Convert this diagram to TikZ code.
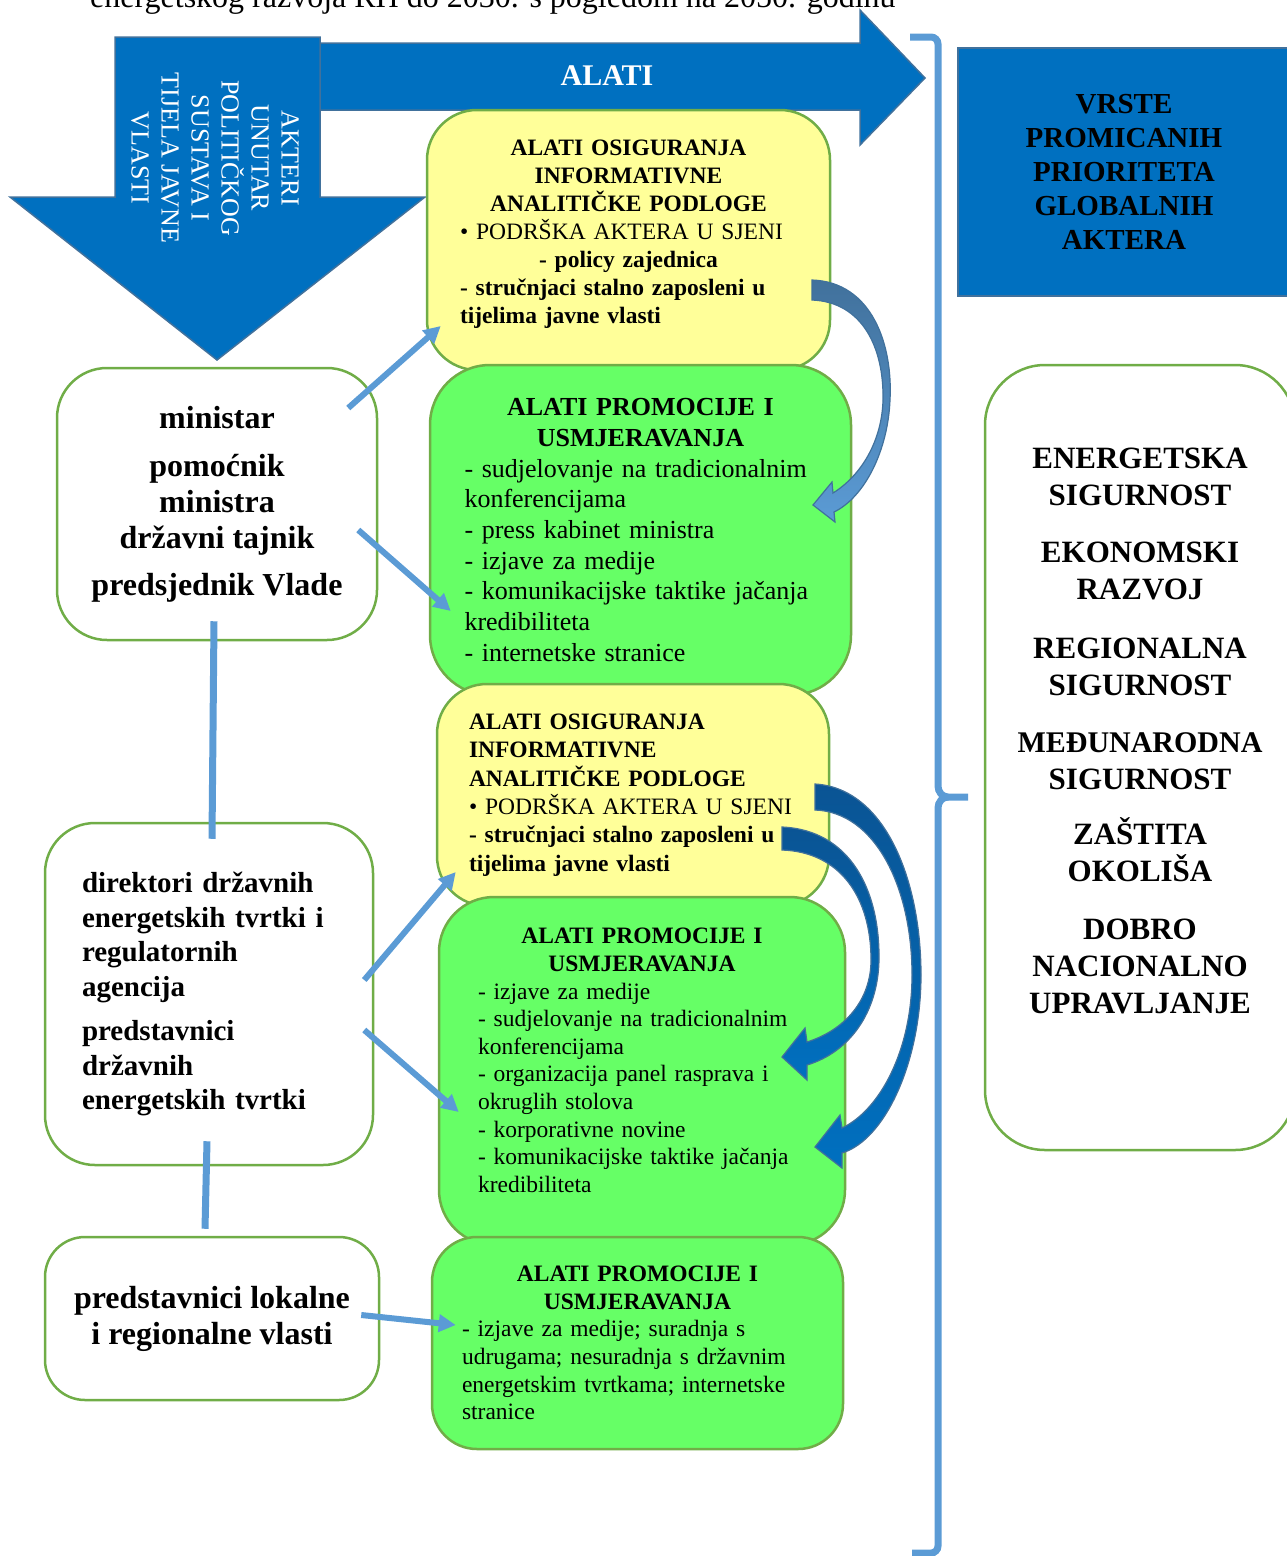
\documentclass[tikz,border=0pt]{standalone}
\usepackage{fontspec}
\setmainfont{Liberation Serif}
\usetikzlibrary{arrows.meta,calc}

\definecolor{arrowblue}{HTML}{0070C0}
\definecolor{edgeblue}{HTML}{41719C}
\definecolor{lineblue}{HTML}{5B9BD5}
\definecolor{deepblue}{HTML}{0A5494}
\definecolor{boxgreen}{HTML}{70AD47}
\definecolor{palegreen}{HTML}{66FF66}
\definecolor{paleyellow}{HTML}{FFFF99}

\begin{document}
\begin{tikzpicture}[
    x=1pt, y=-1pt,
    yellowbox/.style={rectangle, draw=boxgreen, fill=paleyellow, rounded corners=50pt, line width=2.5pt, align=left, font={\fontsize{23.5}{28}\selectfont}},
    greenbox/.style={rectangle, draw=boxgreen, fill=palegreen, rounded corners=55pt, line width=2.5pt, align=left},
    actor/.style={rectangle, draw=boxgreen, fill=white, rounded corners=50pt, line width=2.5pt},
    headbox/.style={rectangle, draw=edgeblue, fill=arrowblue, line width=1.5pt, align=center, font={\fontsize{29}{34}\selectfont\bfseries}},
    bigarrow/.style={fill=arrowblue, draw=edgeblue, line width=1.5pt},
    bendarrow/.style={draw=edgeblue, line width=1.2pt},
    link/.style={draw=lineblue, line width=6pt, -{Triangle[length=17pt,width=17pt]}},
    tie/.style={draw=lineblue, line width=7pt},
    brace/.style={draw=lineblue, line width=7pt}
]
\useasboundingbox (0,0) rectangle (1286,1556);

% Cut-off caption line
\node[anchor=base west, inner sep=0pt, font={\fontsize{32}{38}\selectfont}] (doctitle) at (90,7) {energetskog razvoja RH do 2030. s pogledom na 2050. godinu};

% Big block arrows
\path[bigarrow] (320,43) -- (860,43) -- (860,10) -- (925,78) -- (860,145) -- (860,110) -- (320,110) -- cycle;
\path[bigarrow] (115,37) -- (320,37) -- (320,197) -- (425,197) -- (217,360) -- (10,197) -- (115,197) -- cycle;
\node[text=white, font={\fontsize{30}{36}\selectfont\bfseries}] (toolslbl) at (607,76) {ALATI};
\node[rotate=-90, align=center, text=white, font={\fontsize{26}{30}\selectfont}] (actorslbl) at (215,158) {AKTERI\\ UNUTAR\\ POLITIČKOG\\ SUSTAVA I\\ TIJELA JAVNE\\ VLASTI};

% Right heading
\node[headbox, minimum width=332pt, minimum height=248pt] (priorhead) at (1124,172) {VRSTE\\ PROMICANIH\\ PRIORITETA\\ GLOBALNIH\\ AKTERA};

% Brace
\draw[brace] (910,37) -- (931,37) to[out=0,in=90] (938,44) -- (938,786) to[out=-90,in=180] (948,797) -- (968,797);
\draw[brace] (948,797) to[out=180,in=90] (938,808) -- (938,1546) to[out=-90,in=0] (931,1553) -- (912,1553);

% Tool boxes (middle column)
\node[yellowbox, minimum width=403pt, minimum height=260pt, text width=337pt] (infotop) at (628.5,240) {{\centering\bfseries ALATI OSIGURANJA\\ INFORMATIVNE\\ ANALITIČKE PODLOGE\par}
• PODRŠKA AKTERA U SJENI\par
{\centering\bfseries - policy zajednica\par}
{\bfseries - stručnjaci stalno zaposleni u\\ tijelima javne vlasti\par}
\vspace{12pt}\hrule height 0pt};

\node[greenbox, minimum width=421pt, minimum height=330pt, text width=352pt, rounded corners=60pt, font={\fontsize{26}{30.7}\selectfont}] (promotop) at (640.5,530) {{\centering\bfseries ALATI PROMOCIJE I\\ USMJERAVANJA\par}
- sudjelovanje na tradicionalnim\\ konferencijama\\ - press kabinet ministra\\ - izjave za medije\\ - komunikacijske taktike jačanja\\ kredibiliteta\\ - internetske stranice};

\node[yellowbox, minimum width=392pt, minimum height=222pt, text width=328pt, font={\fontsize{23.5}{28.4}\selectfont}] (infomid) at (633,795) {{\bfseries ALATI OSIGURANJA\\ INFORMATIVNE\\ ANALITIČKE PODLOGE\par}
• PODRŠKA AKTERA U SJENI\par
{\bfseries - stručnjaci stalno zaposleni u\\ tijelima javne vlasti\par}};

\node[greenbox, minimum width=406pt, minimum height=348pt, text width=328pt, font={\fontsize{23.5}{27.6}\selectfont}] (promomid) at (642,1071) {{\centering\bfseries ALATI PROMOCIJE I\\ USMJERAVANJA\par}
- izjave za medije\\ - sudjelovanje na tradicionalnim\\ konferencijama\\ - organizacija panel rasprava i\\ okruglih stolova\\ - korporativne novine\\ - komunikacijske taktike jačanja\\ kredibiliteta\par
\vspace{21pt}\hrule height 0pt};

\node[greenbox, minimum width=411pt, minimum height=212pt, text width=351pt, rounded corners=45pt, font={\fontsize{23.5}{27.6}\selectfont}] (promolow) at (637.5,1343) {{\centering\bfseries ALATI PROMOCIJE I\\ USMJERAVANJA\par}
- izjave za medije; suradnja s\\ udrugama; nesuradnja s državnim\\ energetskim tvrtkama; internetske\\ stranice};

% Actors (left column)
\node[actor, minimum width=320pt, minimum height=272pt, align=center, font={\fontsize{32}{36}\selectfont\bfseries}] (officials) at (217,504) {ministar\\[12pt] pomoćnik\\ ministra\\ državni tajnik\\[11pt] predsjednik Vlade};
\node[actor, minimum width=328pt, minimum height=342pt, text width=254pt, align=left, font={\fontsize{29}{34.5}\selectfont\bfseries}] (companies) at (209,994) {direktori državnih\\ energetskih tvrtki i\\ regulatornih\\ agencija\\[10pt] predstavnici\\ državnih\\ energetskih tvrtki};
\node[actor, minimum width=334pt, minimum height=163pt, rounded corners=40pt, align=center, font={\fontsize{32}{36}\selectfont\bfseries}] (locals) at (212,1318.5) {predstavnici lokalne\\ i regionalne vlasti};

% Priorities (right column)
\node[actor, minimum width=310pt, minimum height=785pt, rounded corners=60pt, text width=300pt, align=center, font={\fontsize{31}{37}\selectfont\bfseries}] (priorities) at (1140,757.5) {ENERGETSKA\\ SIGURNOST\\[20pt] EKONOMSKI\\ RAZVOJ\\[22pt] REGIONALNA\\ SIGURNOST\\[20pt] {\fontsize{30}{34}\selectfont MEĐUNARODNA}\\ SIGURNOST\\[18pt] ZAŠTITA\\ OKOLIŠA\\[21pt] DOBRO\\ NACIONALNO\\ UPRAVLJANJE\par
\vspace{54pt}\hrule height 0pt};

% Connectors
\draw[tie] ($(officials.south)+(-3,-20)$) -- ($(companies.north)+(3,17)$);
\draw[tie] ($(companies.south)+(-2,-25)$) -- ($(locals.north)+(-7,-7)$);
\draw[link] ($(officials.east)+(-30,-96)$) -- ($(infotop.west)+(15,86)$);
\draw[link] ($(officials.east)+(-20,26)$) -- ($(promotop.west)+(22,81)$);
\draw[link] ($(companies.east)+(-10,-14)$) -- ($(infomid.west)+(20,77)$);
\draw[link] ($(companies.east)+(-10,36)$) -- ($(promomid.west)+(21,41)$);
\draw[link] ($(locals.east)+(-19,-3.5)$) -- ($(promolow.west)+(25,-18)$);

% Curved block arrows
\path[bendarrow, top color=edgeblue, bottom color=lineblue] (812,280) .. controls (872,282) and (893,345) .. (890,400) .. controls (888,450) and (865,497) .. (834,512) -- (835,522) -- (813,505) -- (832,482) -- (833,493) .. controls (862,475) and (882,440) .. (883,400) .. controls (884,347) and (862,302) .. (812,300) -- cycle;
\path[bendarrow, top color=deepblue, bottom color=arrowblue] (782,827) .. controls (850,830) and (880,890) .. (879,960) .. controls (878,1012) and (850,1052) .. (807,1065) -- (807,1080) -- (782,1057) -- (805,1028) -- (807,1042) .. controls (845,1030) and (871,1000) .. (871,960) .. controls (871,897) and (840,852) .. (782,850) -- cycle;
\path[bendarrow, top color=deepblue, bottom color=arrowblue] (815,784) .. controls (885,788) and (921,880) .. (921,975) .. controls (921,1062) and (885,1140) .. (842,1153) -- (842,1168) -- (815,1147) -- (840,1115) -- (842,1128) .. controls (880,1110) and (912,1050) .. (912,975) .. controls (912,887) and (875,812) .. (815,810) -- cycle;

\end{tikzpicture}
\end{document}
